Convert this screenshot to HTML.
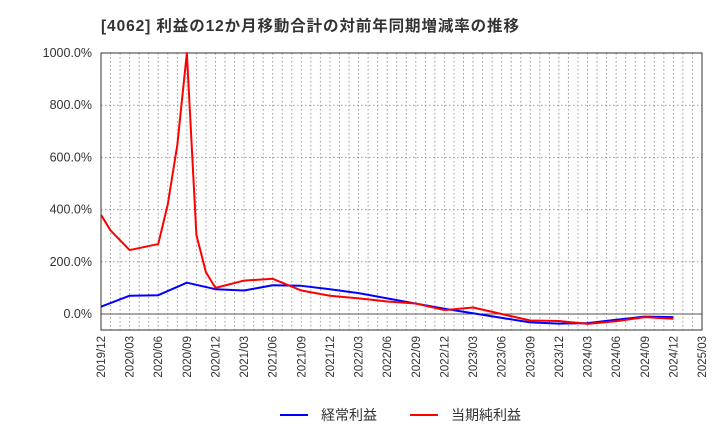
<!DOCTYPE html>
<html><head><meta charset="utf-8"><style>
body{margin:0;background:#fff;font-family:"Liberation Sans","Noto Sans CJK JP",sans-serif}
</style></head><body>
<svg id="c" width="720" height="440" xmlns="http://www.w3.org/2000/svg" style="font-family:'Liberation Sans','Noto Sans CJK JP',sans-serif"></svg>
<script>
const tickLabels=["2019/12","2020/03","2020/06","2020/09","2020/12","2021/03","2021/06","2021/09","2021/12","2022/03","2022/06","2022/09","2022/12","2023/03","2023/06","2023/09","2023/12","2024/03","2024/06","2024/09","2024/12","2025/03"];
const yTicks=[0,200,400,600,800,1000];
const blueMonths=[0,3,6,9,12,15,18,21,24,27,30,33,36,39,42,45,48,51,54,57,60];
const blueValues=[28,70,72,120,95,90,110,108,95,80,60,40,20,3,-15,-32,-37,-35,-22,-10,-12];
const redMonths=[0,1,3,6,7,8,9,10,11,12,15,18,21,24,27,30,33,36,39,42,45,48,51,54,57,60];
const redValues=[380,320,245,268,420,648,1000,303,160,100,128,135,90,70,60,48,40,15,25,0,-25,-27,-38,-28,-12,-18];
const L=101,R=702,T=53,B=330;
const x=m=>L+m*(R-L)/63;
const y=v=>314-v*(314-T)/1000;
const s=document.getElementById('c');const NS="http://www.w3.org/2000/svg";
function mk(t,a,txt){const e=document.createElementNS(NS,t);for(const k in a)e.setAttribute(k,a[k]);if(txt!==undefined)e.textContent=txt;s.appendChild(e);return e;}
let e=mk('text',{x:101,y:31,'font-size':15.5,'font-weight':'bold',fill:'#333','letter-spacing':'0.9','xml:space':'preserve'},'[4062]  利益の12か月移動合計の対前年同期増減率の推移');

for(let m=1;m<63;m++){e=mk('line',{x1:x(m),x2:x(m),y1:T,y2:B,stroke:'#999','stroke-dasharray':'1.5,2.5','stroke-width':1});
}
yTicks.forEach(v=>{e=mk('line',{x1:L,x2:R,y1:y(v),y2:y(v),stroke:v===0?'#555':'#999','stroke-dasharray':v===0?'':'1.5,2.5','stroke-width':1});

e=mk('text',{x:92,y:y(v)+4,'text-anchor':'end','font-size':12.5,fill:'#333'},v.toFixed(1)+'%');
});
e=mk('rect',{x:L,y:T,width:R-L,height:B-T,fill:'none',stroke:'#333','stroke-width':1});

tickLabels.forEach((t,i)=>{const xx=x(i*3);e=mk('text',{x:xx+4,y:336,'text-anchor':'end','font-size':11.5,fill:'#333',transform:`rotate(-90 ${xx+4} 336)`},t);
});
function line(ms,vs,c,n){e=mk('polyline',{points:ms.map((m,i)=>x(m)+','+y(vs[i])).join(' '),fill:'none',stroke:c,'stroke-width':2,'stroke-linejoin':'round'});
}
line(blueMonths,blueValues,'#0000ff','series-ordinary-profit');
line(redMonths,redValues,'#ff0000','series-net-profit');
e=mk('line',{x1:280,x2:308,y1:415,y2:415,stroke:'#0000ff','stroke-width':2});
e=mk('text',{x:321,y:420,'font-size':14,fill:'#333'},'経常利益');
e=mk('line',{x1:410,x2:438,y1:415,y2:415,stroke:'#ff0000','stroke-width':2});
e=mk('text',{x:451,y:420,'font-size':14,fill:'#333'},'当期純利益');
</script>
</body></html>
